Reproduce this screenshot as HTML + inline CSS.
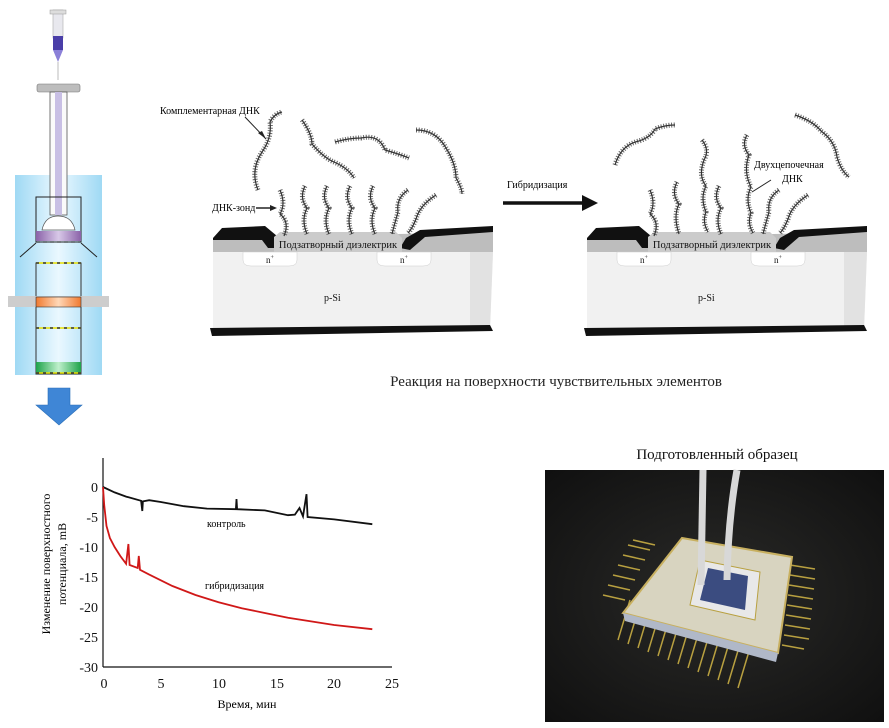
<!DOCTYPE html>
<html><head><meta charset="utf-8"><style>
html,body{margin:0;padding:0;background:#fff;}
svg{display:block;font-family:"Liberation Serif",serif;}
</style></head><body>
<svg width="889" height="728" viewBox="0 0 889 728" xmlns="http://www.w3.org/2000/svg">
<defs>
<linearGradient id="col" x1="0" x2="1"><stop offset="0" stop-color="#9fd9f4"/><stop offset="0.5" stop-color="#eaf8ff"/><stop offset="1" stop-color="#9fd9f4"/></linearGradient>
<linearGradient id="or" x1="0" x2="1"><stop offset="0" stop-color="#f07a30"/><stop offset="0.5" stop-color="#ffd8b8"/><stop offset="1" stop-color="#f07a30"/></linearGradient>
<linearGradient id="gr" x1="0" x2="1"><stop offset="0" stop-color="#1ea34a"/><stop offset="0.5" stop-color="#bff0cc"/><stop offset="1" stop-color="#1ea34a"/></linearGradient>
<linearGradient id="pu" x1="0" x2="1"><stop offset="0" stop-color="#8a62a8"/><stop offset="0.5" stop-color="#d8c8e8"/><stop offset="1" stop-color="#8a62a8"/></linearGradient>
<radialGradient id="bg" cx="0.5" cy="0.5" r="0.7"><stop offset="0" stop-color="#2a2a28"/><stop offset="1" stop-color="#101010"/></radialGradient>
<g id="chip">
 <polygon points="213,238 493,232 493,252 213,252" fill="#bdbdbd"/>
 <polygon points="213,252 493,252 490,330 213,330" fill="#f1f1f1"/>
 <polygon points="470,252 493,252 490,330 470,330" fill="#e2e2e2"/>
 <path d="M243,252 h54 v8 q0,6 -8,6 h-38 q-8,0 -8,-6z" fill="#fff" stroke="#ccc" stroke-width="0.5"/>
 <path d="M377,252 h54 v8 q0,6 -8,6 h-38 q-8,0 -8,-6z" fill="#fff" stroke="#ccc" stroke-width="0.5"/>
 <polygon points="213,238 222,228 265,226 277,236 277,248 268,248 262,240 213,240" fill="#111"/>
 <polygon points="400,248 406,238 420,230 493,226 493,232 425,237 410,250" fill="#111"/>
 <polygon points="274,237 280,232 396,232 402,238 402,252 274,252" fill="#cbcbcb"/>
 <text x="338" y="248" font-size="10.5" text-anchor="middle" fill="#111">Подзатворный диэлектрик</text>
 <text x="266" y="263" font-size="9" fill="#111">n<tspan font-size="6" dy="-4">+</tspan></text>
 <text x="400" y="263" font-size="9" fill="#111">n<tspan font-size="6" dy="-4">+</tspan></text>
 <text x="324" y="301" font-size="10" fill="#111">p-Si</text>
 <polygon points="210,328 490,325 493,331 212,336" fill="#111"/>
</g>
</defs>

<!-- left column apparatus -->
<rect x="15" y="175" width="87" height="200" fill="url(#col)"/>
<rect x="53" y="10" width="10" height="28" fill="#e8e8ee" stroke="#aaa" stroke-width="0.6"/>
<rect x="50" y="10" width="16" height="4" fill="#ddd" stroke="#999" stroke-width="0.5"/>
<rect x="53" y="36" width="10" height="14" fill="#4a3ea8"/>
<path d="M53,50 L58,62 L63,50z" fill="#8b80d8"/>
<line x1="58" y1="62" x2="58" y2="80" stroke="#aaa" stroke-width="0.8"/>
<rect x="37" y="84" width="43" height="8" rx="2" fill="#bdbdbd" stroke="#777" stroke-width="0.6"/>
<rect x="50" y="92" width="17" height="123" fill="#fafafa" stroke="#555" stroke-width="0.8"/>
<rect x="55" y="92" width="7" height="123" fill="#c8bfe4"/>
<rect x="36" y="197" width="45" height="45" fill="none" stroke="#222" stroke-width="1"/>
<path d="M42,230 q3,-14 16,-14 q14,0 17,14z" fill="#fff" stroke="#555" stroke-width="0.7"/>
<rect x="36" y="231" width="45" height="10" fill="url(#pu)"/>
<line x1="36" y1="242" x2="81" y2="242" stroke="#333" stroke-width="1.2" stroke-dasharray="4 3"/>
<line x1="36" y1="243" x2="20" y2="257" stroke="#222" stroke-width="1"/>
<line x1="81" y1="243" x2="97" y2="257" stroke="#222" stroke-width="1"/>
<rect x="36" y="263" width="45" height="111" fill="none" stroke="#333" stroke-width="1"/>
<line x1="36" y1="263" x2="81" y2="263" stroke="#e8e000" stroke-width="1.5"/>
<line x1="36" y1="263" x2="81" y2="263" stroke="#333" stroke-width="1.5" stroke-dasharray="3 4"/>
<rect x="8" y="296" width="101" height="11" fill="#cdcdcd"/>
<rect x="36" y="297" width="45" height="10" fill="url(#or)" stroke="#333" stroke-width="0.6"/>
<line x1="36" y1="328" x2="81" y2="328" stroke="#e8e000" stroke-width="1.5"/>
<line x1="36" y1="328" x2="81" y2="328" stroke="#333" stroke-width="1.5" stroke-dasharray="3 4"/>
<rect x="36" y="362" width="45" height="11" fill="url(#gr)"/>
<line x1="36" y1="373" x2="81" y2="373" stroke="#e8e000" stroke-width="1.5"/>
<line x1="36" y1="373" x2="81" y2="373" stroke="#333" stroke-width="1.5" stroke-dasharray="3 4"/>
<path d="M48,388 h22 v17 h12 l-23,20 l-23,-20 h12z" fill="#3f86d6" stroke="#2a6fb8" stroke-width="0.6"/>

<!-- chips -->
<use href="#chip"/>
<use href="#chip" transform="translate(374,0)"/>

<!-- DNA strands -->
<g fill="none" stroke="#333">
 <g stroke-width="5" stroke-dasharray="1 1.6" stroke="#666">
  <path d="M258,190 q-8,-20 4,-38 q10,-14 8,-30 q4,-8 12,-10"/>
  <path d="M302,120 q10,14 10,24 q12,14 22,18 q14,6 20,16"/>
  <path d="M335,142 q14,-4 26,-4 q18,-4 24,12 q14,4 24,8"/>
  <path d="M416,130 q20,0 30,18 q10,16 10,30 q6,10 6,16"/>
  <path d="M280,190 q6,14 0,24 q10,8 4,22"/>
  <path d="M305,186 q-6,12 2,22 q-6,12 0,26"/>
  <path d="M327,186 q-6,12 2,22 q-6,12 0,26"/>
  <path d="M350,186 q-6,12 2,22 q-6,12 0,26"/>
  <path d="M373,186 q-6,12 2,22 q-6,12 0,26"/>
  <path d="M408,190 q-12,8 -10,22 q-4,14 -6,22"/>
  <path d="M436,195 q-16,10 -20,24 q-4,10 -8,14"/>
  <!-- right -->
  <path d="M615,165 q6,-20 24,-24 q12,-4 16,-12 q10,-4 20,-4"/>
  <path d="M795,115 q18,6 26,16 q14,10 16,26 q4,14 12,20"/>
  <path d="M650,190 q6,14 0,24 q10,8 4,22"/>
  <path d="M677,182 q-6,12 2,22 q-6,12 0,30"/>
  <path d="M702,140 q8,10 2,20 q-6,16 2,26 q-6,12 0,26 q-4,10 2,20"/>
  <path d="M719,186 q-6,12 2,22 q-6,12 0,26"/>
  <path d="M747,135 q-6,10 2,20 q-6,16 2,32 q-6,12 0,26 q-4,10 2,20"/>
  <path d="M779,190 q-12,8 -10,22 q-4,14 -6,22"/>
  <path d="M808,195 q-16,10 -20,24 q-4,10 -8,14"/>
 </g>
 <g stroke-width="1.2">
  <path d="M258,190 q-8,-20 4,-38 q10,-14 8,-30 q4,-8 12,-10"/>
  <path d="M302,120 q10,14 10,24 q12,14 22,18 q14,6 20,16"/>
  <path d="M335,142 q14,-4 26,-4 q18,-4 24,12 q14,4 24,8"/>
  <path d="M416,130 q20,0 30,18 q10,16 10,30 q6,10 6,16"/>
  <path d="M280,190 q6,14 0,24 q10,8 4,22"/>
  <path d="M305,186 q-6,12 2,22 q-6,12 0,26"/>
  <path d="M327,186 q-6,12 2,22 q-6,12 0,26"/>
  <path d="M350,186 q-6,12 2,22 q-6,12 0,26"/>
  <path d="M373,186 q-6,12 2,22 q-6,12 0,26"/>
  <path d="M408,190 q-12,8 -10,22 q-4,14 -6,22"/>
  <path d="M436,195 q-16,10 -20,24 q-4,10 -8,14"/>
  <path d="M615,165 q6,-20 24,-24 q12,-4 16,-12 q10,-4 20,-4"/>
  <path d="M795,115 q18,6 26,16 q14,10 16,26 q4,14 12,20"/>
  <path d="M650,190 q6,14 0,24 q10,8 4,22"/>
  <path d="M677,182 q-6,12 2,22 q-6,12 0,30"/>
  <path d="M702,140 q8,10 2,20 q-6,16 2,26 q-6,12 0,26 q-4,10 2,20"/>
  <path d="M719,186 q-6,12 2,22 q-6,12 0,26"/>
  <path d="M747,135 q-6,10 2,20 q-6,16 2,32 q-6,12 0,26 q-4,10 2,20"/>
  <path d="M779,190 q-12,8 -10,22 q-4,14 -6,22"/>
  <path d="M808,195 q-16,10 -20,24 q-4,10 -8,14"/>
 </g>
 <line x1="245" y1="117" x2="266" y2="139" stroke="#222" stroke-width="1"/>
 <line x1="256" y1="208" x2="272" y2="208" stroke="#222" stroke-width="1.5"/>
 <line x1="771" y1="180" x2="752" y2="192" stroke="#222" stroke-width="1"/>
</g>
<polygon points="266,139 258,133 262,131" fill="#222"/>
<polygon points="277,208 270,205 270,211" fill="#222"/>
<text x="160" y="114" font-size="10">Комплементарная ДНК</text>
<text x="212" y="211" font-size="10">ДНК-зонд</text>
<text x="754" y="168" font-size="10">Двухцепочечная</text>
<text x="782" y="182" font-size="10">ДНК</text>
<text x="507" y="188" font-size="10">Гибридизация</text>
<line x1="503" y1="203" x2="585" y2="203" stroke="#111" stroke-width="3.5"/>
<polygon points="598,203 582,195 582,211" fill="#111"/>
<text x="556" y="386" font-size="15" text-anchor="middle" fill="#222">Реакция на поверхности чувствительных элементов</text>

<!-- chart -->
<g stroke="#111" stroke-width="1.2" fill="none">
 <line x1="103" y1="458" x2="103" y2="667"/>
 <line x1="103" y1="667" x2="392" y2="667"/>
</g>
<g font-size="14" text-anchor="end" fill="#111">
 <text x="98" y="492">0</text><text x="98" y="522">-5</text><text x="98" y="552">-10</text>
 <text x="98" y="582">-15</text><text x="98" y="612">-20</text><text x="98" y="642">-25</text><text x="98" y="672">-30</text>
</g>
<g font-size="14" text-anchor="middle" fill="#111">
 <text x="104" y="688">0</text><text x="161" y="688">5</text><text x="219" y="688">10</text>
 <text x="277" y="688">15</text><text x="334" y="688">20</text><text x="392" y="688">25</text>
</g>
<text x="247" y="708" font-size="12" text-anchor="middle">Время, мин</text>
<text transform="translate(50,564) rotate(-90)" font-size="12" text-anchor="middle">Изменение поверхностного</text>
<text transform="translate(66,564) rotate(-90)" font-size="12" text-anchor="middle">потенциала, mB</text>
<polyline fill="none" stroke="#111" stroke-width="1.8" points="103,487 114.6,492.4 126.1,496.6 141.1,500.8 142.3,511 142.9,501.4 149.2,500.2 160.8,502 183.9,506.2 207,508.6 235.9,509.2 236.5,499 237.1,509.2 264.8,510.4 288,515.2 294.9,514.6 299.5,508 303,516.4 306.5,494.2 307.6,517 334.2,519.4 372.3,524.2"/>
<polyline fill="none" stroke="#d01818" stroke-width="1.8" points="103,487 104.2,505 106.5,526 109.9,538 114.6,547 120.3,556 126.1,563.8 128.4,544 129.6,565 137.7,568 138.8,556 140,569.8 149.2,574.6 172.4,586 195.5,595 218.6,602.2 241.7,608.2 264.8,613 288,617.8 311.1,621.4 334.2,625 372.3,629.2"/>
<text x="207" y="527" font-size="10">контроль</text>
<text x="205" y="589" font-size="10">гибридизация</text>

<!-- photo -->
<text x="717" y="459" font-size="15" text-anchor="middle" fill="#111">Подготовленный образец</text>
<rect x="545" y="470" width="339" height="252" fill="url(#bg)"/>
<g stroke="#b8a040" stroke-width="1.5">
 <path d="M630,600 l-12,40 M640,604 l-12,40 M650,608 l-12,40 M660,612 l-12,40 M670,616 l-12,40 M680,620 l-12,40 M690,624 l-12,40 M700,628 l-12,40 M710,632 l-12,40 M720,636 l-12,40 M730,640 l-12,40 M740,644 l-12,40 M750,648 l-12,40"/>
 <path d="M625,600 l-22,-5 M630,590 l-22,-5 M635,580 l-22,-5 M640,570 l-22,-5 M645,560 l-22,-5 M650,550 l-22,-5 M655,545 l-22,-5"/>
 <path d="M790,565 l25,4 M790,575 l25,4 M789,585 l25,4 M788,595 l25,4 M787,605 l25,4 M786,615 l25,4 M785,625 l25,4 M784,635 l25,4 M782,645 l22,4"/>
</g>
<polygon points="682,538 792,557 778,653 623,613" fill="#d8d4c0" stroke="#c8b060" stroke-width="2"/>
<polygon points="623,613 778,653 776,662 625,621" fill="#b0b8c8"/>
<polygon points="700,560 760,572 755,620 690,605" fill="#e8e8e8" stroke="#b8a040" stroke-width="1"/>
<polygon points="708,568 748,576 745,610 700,600" fill="#3b4c80"/>
<path d="M703,470 L701,585" stroke="#d8d8d8" stroke-width="7" fill="none"/>
<path d="M737,470 Q728,520 727,580" stroke="#d8d8d8" stroke-width="7" fill="none"/>
</svg>
</body></html>
